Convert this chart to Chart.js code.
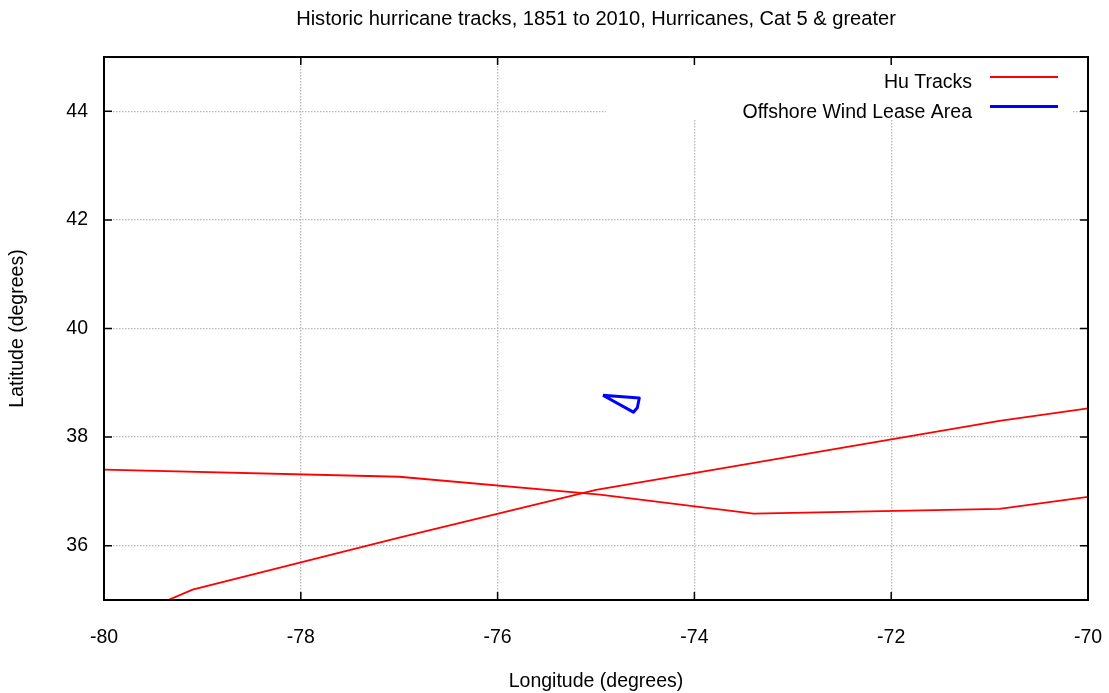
<!DOCTYPE html>
<html>
<head>
<meta charset="utf-8">
<script src="https://cdn.jsdelivr.net/npm/chart.js@4.4.1/dist/chart.umd.min.js"></script>
<style>
  html, body { margin: 0; padding: 0; background: #ffffff; }
  #wrap { width: 1109px; height: 693px; }
</style>
</head>
<body>
<div id="wrap"><canvas id="c" width="1109" height="693"></canvas></div>
<script>
// Axis ticks (degrees)
const lonTicks = [-80, -78, -76, -74, -72, -70];
const latTicks = [36, 38, 40, 42, 44];

// Hurricane track 1 (west to east)
const track1Lon = [-80.0, -77.0, -74.96, -73.4, -70.9, -70.0];
const track1Lat = [37.40, 37.27, 36.94, 36.59, 36.68, 36.90];

// Hurricane track 2 (south-west to north-east)
const track2Lon = [-79.45, -79.1, -77.0, -75.0, -70.9, -70.0];
const track2Lat = [34.92, 35.19, 36.15, 37.03, 38.30, 38.53];

// Offshore wind lease area outline (closed polygon)
const leaseLon = [-74.93, -74.56, -74.58, -74.62, -74.93];
const leaseLat = [38.77, 38.72, 38.54, 38.46, 38.77];

const FONT = "'Liberation Sans', Arial, Helvetica, sans-serif";
const FS = 19.5;

function zip(xs, ys) { return xs.map((x, i) => ({ x: x, y: ys[i] })); }

// Border with inward ticks on all four sides
const frame = {
  id: 'frame',
  afterDatasetsDraw(chart) {
    const { ctx, chartArea: a, scales } = chart;
    const tl = 8;
    ctx.save();
    ctx.strokeStyle = '#000';
    ctx.lineWidth = 1.5;
    ctx.beginPath();
    lonTicks.forEach(v => {
      const x = scales.x.getPixelForValue(v);
      ctx.moveTo(x, a.bottom); ctx.lineTo(x, a.bottom - tl);
      ctx.moveTo(x, a.top); ctx.lineTo(x, a.top + tl);
    });
    latTicks.forEach(v => {
      const y = scales.y.getPixelForValue(v);
      ctx.moveTo(a.left, y); ctx.lineTo(a.left + tl, y);
      ctx.moveTo(a.right, y); ctx.lineTo(a.right - tl, y);
    });
    ctx.stroke();
    ctx.lineWidth = 2;
    ctx.strokeRect(a.left, a.top, a.right - a.left, a.bottom - a.top);
    ctx.restore();
  }
};

// Key in the upper right corner of the plot
const keyBox = {
  id: 'keyBox',
  afterDatasetsDraw(chart) {
    const { ctx, chartArea: a } = chart;
    const seen = new Set();
    const items = [];
    chart.data.datasets.forEach(ds => {
      if (!seen.has(ds.label)) { seen.add(ds.label); items.push(ds); }
    });
    ctx.save();
    ctx.fillStyle = '#fff';
    ctx.fillRect(a.left + 502, a.top + 3, a.right - a.left - 518, 60);
    ctx.font = FS + 'px ' + FONT;
    ctx.textAlign = 'right';
    ctx.textBaseline = 'middle';
    items.forEach((ds, i) => {
      const ly = a.top + 20 + i * 29.5;
      ctx.fillStyle = '#000';
      ctx.fillText(ds.label, a.right - 116, ly + 6);
      ctx.strokeStyle = ds.borderColor;
      ctx.lineWidth = ds.borderWidth;
      ctx.beginPath();
      ctx.moveTo(a.right - 98, ly);
      ctx.lineTo(a.right - 30, ly);
      ctx.stroke();
    });
    ctx.restore();
  }
};

const lineStyle = { showLine: true, pointRadius: 0, pointHoverRadius: 0, fill: false, tension: 0 };

new Chart(document.getElementById('c'), {
  type: 'scatter',
  data: {
    datasets: [
      Object.assign({ label: 'Hu Tracks', data: zip(track1Lon, track1Lat), borderColor: '#ff0000', borderWidth: 1.8 }, lineStyle),
      Object.assign({ label: 'Hu Tracks', data: zip(track2Lon, track2Lat), borderColor: '#ff0000', borderWidth: 1.8 }, lineStyle),
      Object.assign({ label: 'Offshore Wind Lease Area', data: zip(leaseLon, leaseLat), borderColor: '#0000ff', borderWidth: 3, borderJoinStyle: 'round' }, lineStyle)
    ]
  },
  options: {
    responsive: false,
    animation: false,
    events: [],
    layout: { padding: { left: 0, right: 21, top: 0, bottom: 0 } },
    plugins: {
      legend: { display: false },
      tooltip: { enabled: false },
      title: {
        display: true,
        fullSize: false,
        text: 'Historic hurricane tracks, 1851 to 2010, Hurricanes, Cat 5 & greater',
        color: '#000',
        font: { family: FONT, size: 20.1, weight: 'normal' },
        padding: { top: 7, bottom: 25.9 }
      }
    },
    scales: {
      x: {
        type: 'linear',
        min: -80, max: -70,
        afterBuildTicks: s => { s.ticks = lonTicks.map(v => ({ value: v })); },
        afterFit: s => { s.height = 93; s.paddingLeft = 0; s.paddingRight = 0; },
        grid: { color: '#b8b8b8', lineWidth: 1.3, drawTicks: false },
        border: { display: false, dash: [1.5, 1.5] },
        ticks: { color: '#000', font: { family: FONT, size: FS }, padding: 26, maxRotation: 0, autoSkip: false },
        title: { display: true, text: 'Longitude (degrees)', color: '#000', font: { family: FONT, size: FS }, padding: { top: 0, bottom: 0 } }
      },
      y: {
        type: 'linear',
        min: 35, max: 45,
        afterBuildTicks: s => { s.ticks = latTicks.map(v => ({ value: v })); },
        afterFit: s => { s.width = 104; s.paddingTop = 0; s.paddingBottom = 0; },
        grid: { color: '#b8b8b8', lineWidth: 1.3, drawTicks: false },
        border: { display: false, dash: [1.5, 1.5] },
        ticks: { color: '#000', font: { family: FONT, size: FS }, padding: 16 },
        title: { display: true, text: 'Latitude (degrees)', color: '#000', font: { family: FONT, size: FS }, padding: { top: 6, bottom: 0 } }
      }
    }
  },
  plugins: [keyBox, frame]
});
</script>
</body>
</html>
